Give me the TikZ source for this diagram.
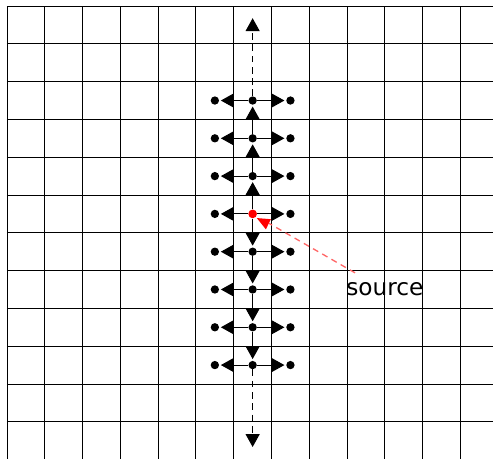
\documentclass[tikz,border=0pt]{standalone}
\usepackage{fontspec}
\setmainfont{DejaVu Sans}
\usetikzlibrary{arrows.meta}

\begin{document}
\begin{tikzpicture}[x=1cm,y=1cm,
  dot/.style={circle,fill=black,inner sep=0pt,minimum size=2.2mm},
  srcdot/.style={circle,fill=red,inner sep=0pt,minimum size=2.3mm},
  flow/.style={-{Triangle[length=3.4mm,width=3.7mm]},line width=0.8pt,shorten >=1.2pt},
  farflow/.style={flow,dash pattern=on 5pt off 3.5pt},
  pointer/.style={red!60,line width=1pt,dash pattern=on 4.5pt off 3.5pt,shorten >=5mm},
  cell/.style={line width=0.7pt}]
\useasboundingbox (-0.185,0.016) rectangle (12.86,12.16);
\clip (-0.185,0.016) rectangle (12.86,12.16);
% lattice
\draw[cell] (0,0.01) grid (12.99,12);
% sites
\node[dot] (u3) at (6.5,9.5) {};
\node[dot] (u3l) at (5.5,9.5) {};
\node[dot] (u3r) at (7.5,9.5) {};
\node[dot] (u2) at (6.5,8.5) {};
\node[dot] (u2l) at (5.5,8.5) {};
\node[dot] (u2r) at (7.5,8.5) {};
\node[dot] (u1) at (6.5,7.5) {};
\node[dot] (u1l) at (5.5,7.5) {};
\node[dot] (u1r) at (7.5,7.5) {};
\node[srcdot] (src) at (6.5,6.5) {};
\node[dot] (srcl) at (5.5,6.5) {};
\node[dot] (srcr) at (7.5,6.5) {};
\node[dot] (d1) at (6.5,5.5) {};
\node[dot] (d1l) at (5.5,5.5) {};
\node[dot] (d1r) at (7.5,5.5) {};
\node[dot] (d2) at (6.5,4.5) {};
\node[dot] (d2l) at (5.5,4.5) {};
\node[dot] (d2r) at (7.5,4.5) {};
\node[dot] (d3) at (6.5,3.5) {};
\node[dot] (d3l) at (5.5,3.5) {};
\node[dot] (d3r) at (7.5,3.5) {};
\node[dot] (d4) at (6.5,2.5) {};
\node[dot] (d4l) at (5.5,2.5) {};
\node[dot] (d4r) at (7.5,2.5) {};
\coordinate (topend) at (6.5,11.72);
\coordinate (botend) at (6.5,0.29);
% vertical hops
\draw[flow] (src) -- (u1);
\draw[flow] (u1) -- (u2);
\draw[flow] (u2) -- (u3);
\draw[farflow] (u3) -- (topend);
\draw[flow] (src) -- (d1);
\draw[flow] (d1) -- (d2);
\draw[flow] (d2) -- (d3);
\draw[flow] (d3) -- (d4);
\draw[farflow] (d4) -- (botend);
% side hops
\draw[flow] (u3) -- (u3l); \draw[flow] (u3) -- (u3r);
\draw[flow] (u2) -- (u2l); \draw[flow] (u2) -- (u2r);
\draw[flow] (u1) -- (u1l); \draw[flow] (u1) -- (u1r);
\draw[flow] (src) -- (srcl); \draw[flow] (src) -- (srcr);
\draw[flow] (d1) -- (d1l); \draw[flow] (d1) -- (d1r);
\draw[flow] (d2) -- (d2l); \draw[flow] (d2) -- (d2r);
\draw[flow] (d3) -- (d3l); \draw[flow] (d3) -- (d3r);
\draw[flow] (d4) -- (d4l); \draw[flow] (d4) -- (d4r);
% label
\node[anchor=base west,inner sep=0pt,font=\fontsize{17.5}{21}\selectfont] (srclabel) at (8.97,4.33) {source};
\coordinate (srctail) at (9.21,4.94);
\draw[pointer] (srctail) -- (src.center);
\fill[red] (6.61,6.39) -- (6.98,6.36) -- (6.85,6.09) -- cycle;
\end{tikzpicture}
\end{document}
